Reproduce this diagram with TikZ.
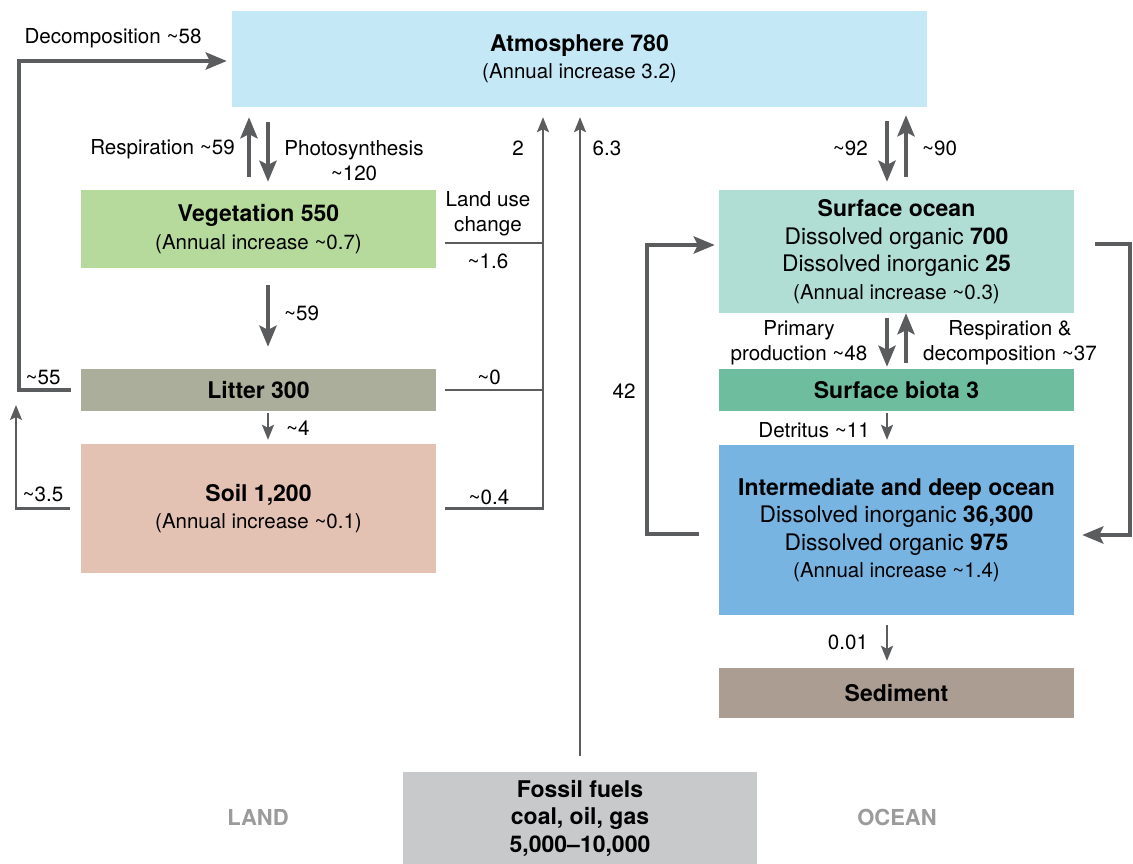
\documentclass[tikz,border=0pt]{standalone}
\usepackage{fontspec}
\setmainfont{TeX Gyre Heros}
\usetikzlibrary{arrows.meta}
\definecolor{atmc}{HTML}{C5E8F7}
\definecolor{vegc}{HTML}{B5DA9B}
\definecolor{litc}{HTML}{ABAE9A}
\definecolor{soilc}{HTML}{E3C2B3}
\definecolor{socc}{HTML}{B1DED4}
\definecolor{bioc}{HTML}{6EBD9F}
\definecolor{deepc}{HTML}{77B4E2}
\definecolor{sedc}{HTML}{AC9D92}
\definecolor{fosc}{HTML}{C8C9CB}
\definecolor{arrc}{HTML}{5B5C5E}
\definecolor{sectc}{HTML}{9B9B9B}
\newcommand\tld{\textasciitilde}
\newcommand\bt[1]{{\fontsize{23}{27.5}\selectfont\bfseries #1}}
\newcommand\dl[1]{{\fontsize{22.8}{27.5}\selectfont #1}}
\begin{document}
\begin{tikzpicture}[x=1pt,y=-1pt,
  box/.style={draw=none, inner sep=0pt, align=center, font=\fontsize{20.5}{27.5}\selectfont},
  lbl/.style={inner sep=0pt, align=center, font=\fontsize{20.6}{25}\selectfont},
  sect/.style={inner sep=0pt, text=sectc, font=\fontsize{22}{25}\selectfont\bfseries},
  thickarr/.style={draw=arrc, line width=4.6pt, -{Stealth[length=21pt,width=17pt,inset=4pt]}},
  thickline/.style={draw=arrc, line width=4.6pt},
  thinarr/.style={draw=arrc, line width=2.2pt, -{Stealth[length=15pt,width=12pt,inset=3pt]}},
  thinline/.style={draw=arrc, line width=2.2pt},
]
\useasboundingbox (0,0) rectangle (1133,864);

% boxes
\node[box, fill=atmc, minimum width=695pt, minimum height=96pt] (atm) at (579.5,59) {\bt{Atmosphere 780}\\(Annual increase 3.2)};
\node[box, fill=vegc, minimum width=355pt, minimum height=78pt] (veg) at (258.5,229) {\bt{Vegetation 550}\\(Annual increase \tld0.7)};
\node[box, fill=litc, minimum width=355pt, minimum height=42pt] (litter) at (258.5,390) {\bt{Litter 300}};
\node[box, fill=soilc, minimum width=355pt, minimum height=129pt] (soil) at (258.5,508.5) {\bt{Soil 1,200}\\(Annual increase \tld0.1)};
\node[box, fill=socc, minimum width=355pt, minimum height=123pt] (socean) at (896.5,251.5) {\bt{Surface ocean}\\\dl{Dissolved organic \bt{700}}\\\dl{Dissolved inorganic \bt{25}}\\(Annual increase \tld0.3)};
\node[box, fill=bioc, minimum width=355pt, minimum height=42pt] (biota) at (896.5,390) {\bt{Surface biota 3}};
\node[box, fill=deepc, minimum width=355pt, minimum height=170pt] (deep) at (896.5,530) {\bt{Intermediate and deep ocean}\\\dl{Dissolved inorganic \bt{36,300}}\\\dl{Dissolved organic \bt{975}}\\(Annual increase \tld1.4)};
\node[box, fill=sedc, minimum width=355pt, minimum height=50pt] (sed) at (896.5,693) {\bt{Sediment}};
\node[box, fill=fosc, minimum width=354pt, minimum height=92pt] (fossil) at (580,818) {\bt{Fossil fuels}\\\bt{coal, oil, gas}\\\bt{5,000--10,000}};

% coordinates
\coordinate (dc) at (19,61);
\coordinate (c35) at (16,405);
\coordinate (lv) at (543,0);
\coordinate (c42) at (647,245);
\coordinate (cR) at (1130,535);

% land connectors
\draw[thickarr] ([xshift=-10pt]litter.west) -| (dc) -- ([xshift=-5pt,yshift=-2pt]atm.west);
\draw[thinarr] ([xshift=-11pt]soil.west) -| (c35);
\draw[thickarr] ([xshift=-9.5pt,yshift=13pt]veg.north) -- ([xshift=-9.5pt,yshift=-10pt]veg.north |- atm.south);
\draw[thickarr] ([xshift=9.5pt,yshift=-15pt]veg.north |- atm.south) -- ([xshift=9.5pt,yshift=8pt]veg.north);
\draw[thickarr] ([xshift=9.5pt,yshift=-17pt]veg.south) -- ([xshift=9.5pt,yshift=22pt]litter.north);
\draw[thinarr] ([xshift=9.5pt,yshift=-2pt]litter.south) -- ([xshift=9.5pt,yshift=4pt]soil.north);
\draw[thinarr] ([xshift=9pt]soil.east) -| ([yshift=-10pt]lv |- atm.south);
\draw[thinline] ([xshift=9pt]litter.east) -- (lv |- litter.east);
\draw[thinline] ([xshift=9pt,yshift=-14pt]veg.east) -- ([yshift=-14pt]lv |- veg.east);
\draw[thinarr] ([yshift=16pt]fossil.north) -- ([yshift=-10pt]fossil.north |- atm.south);

% ocean connectors
\draw[thickarr] ([xshift=-9.5pt,yshift=-14pt]socean.north |- atm.south) -- ([xshift=-9.5pt,yshift=8pt]socean.north);
\draw[thickarr] ([xshift=9.5pt,yshift=13pt]socean.north) -- ([xshift=9.5pt,yshift=-8pt]socean.north |- atm.south);
\draw[thickarr] ([xshift=-9.5pt,yshift=-5pt]socean.south) -- ([xshift=-9.5pt,yshift=2pt]biota.north);
\draw[thickarr] ([xshift=9.5pt,yshift=6pt]biota.north) -- ([xshift=9.5pt]socean.south);
\draw[thinarr] ([xshift=-9.5pt,yshift=-2pt]biota.south) -- ([xshift=-9.5pt,yshift=5pt]deep.north);
\draw[thinarr] ([xshift=-9.5pt,yshift=-10pt]deep.south) -- ([xshift=-9.5pt,yshift=7pt]sed.north);
\draw[thickarr] ([xshift=-20pt,yshift=-4pt]deep.west) -| (c42) -- ([xshift=-4pt,yshift=6.5pt]socean.west);
\draw[thickarr] ([xshift=21pt,yshift=7.5pt]socean.east) -| (cR) -- ([xshift=8pt,yshift=-5pt]deep.east);

% labels
\node[lbl] (tdec) at (113,38) {Decomposition \tld58};
\node[lbl] (t55) at (43,378) {\tld55};
\node[lbl] (t35) at (43,494) {\tld3.5};
\node[lbl,anchor=east] (tresp) at (235,149) {Respiration \tld59};
\node[lbl] (tphot) at (354,161) {Photosynthesis\\\tld120};
\node[lbl,anchor=west] (t59) at (284,313) {\tld59};
\node[lbl,anchor=west] (t4) at (286,428) {\tld4};
\node[lbl] (t2) at (518,148) {2};
\node[lbl] (tluc) at (488,214) {Land use\\change};
\node[lbl] (t16) at (488,261) {\tld1.6};
\node[lbl] (t0) at (489,377) {\tld0};
\node[lbl] (t04) at (489,497) {\tld0.4};
\node[lbl] (t63) at (607,148) {6.3};
\node[lbl,anchor=east] (t92) at (868,148) {\tld92};
\node[lbl,anchor=west] (t90) at (922,148) {\tld90};
\node[lbl] (tpp) at (799,343) {Primary\\production \tld48};
\node[lbl] (trd) at (1010,343) {Respiration \&\\decomposition \tld37};
\node[lbl,anchor=east] (tdet) at (870,430) {Detritus \tld11};
\node[lbl] (t42) at (624,391) {42};
\node[lbl] (t001) at (848,642) {0.01};
\node[sect] (land) at (258,817) {LAND};
\node[sect] (ocean) at (897,817) {OCEAN};
\end{tikzpicture}
\end{document}
